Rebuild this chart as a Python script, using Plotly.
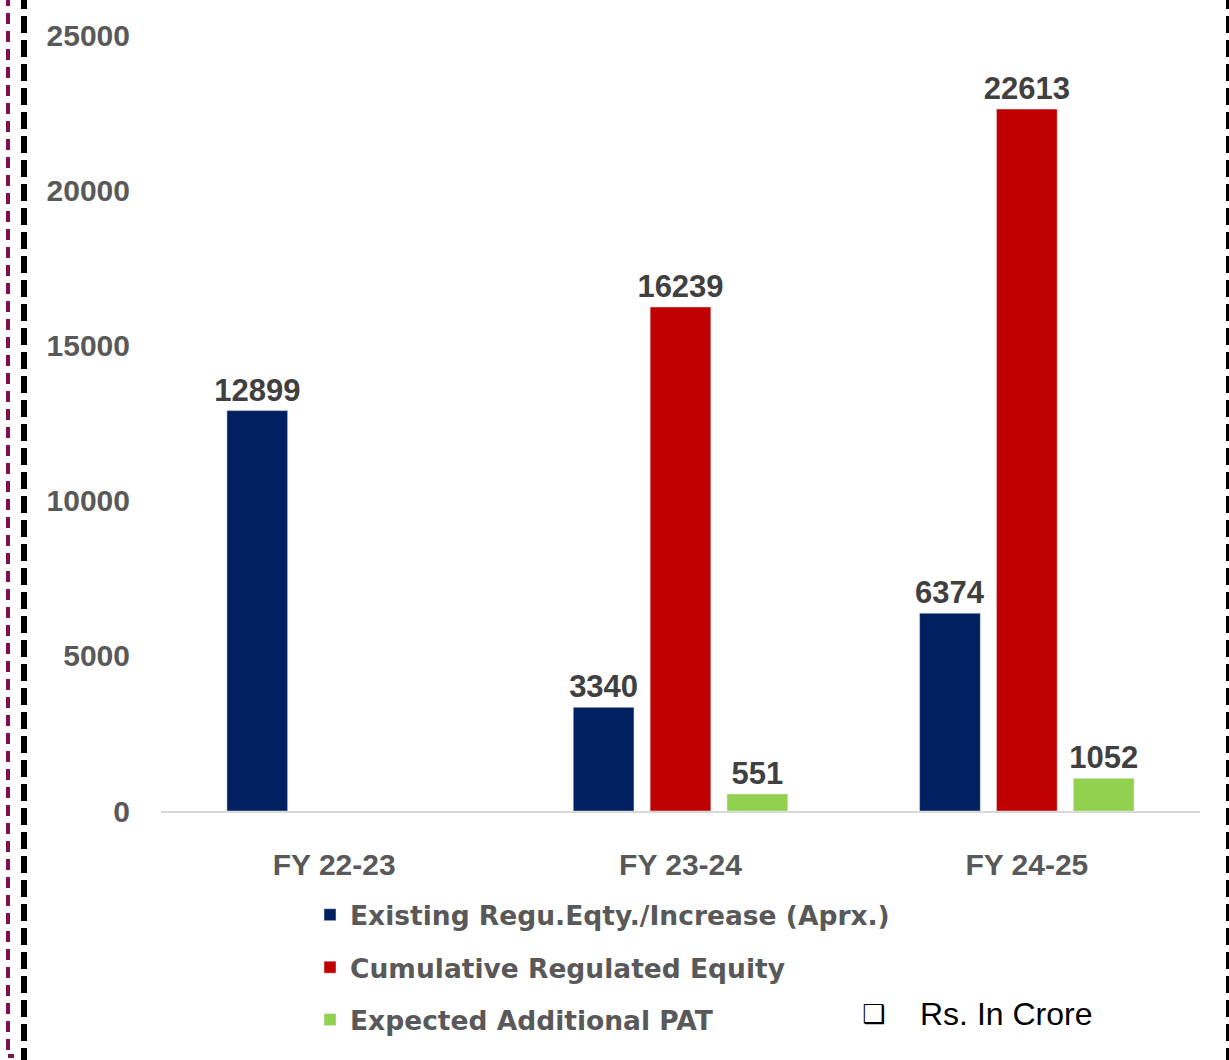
import plotly.graph_objects as go

categories = ["FY 22-23", "FY 23-24", "FY 24-25"]
existing = [12899, 3340, 6374]
cumulative = [None, 16239, 22613]
pat = [None, 551, 1052]
series_names = ["Existing Regu.Eqty./Increase (Aprx.)", "Cumulative Regulated Equity", "Expected Additional PAT"]
colors = ["#002060", "#C00000", "#92D050"]
y_ticks = [0, 5000, 10000, 15000, 20000, 25000]

W, H = 1229, 1060
# plot area in page pixels: x 161..1200, y 35..811
L, T = 161, 35
R = W - 1200
B = H - 811
pw, ph = W - L - R, H - T - B

def px_x(p):
    return (p - L) / pw

def px_y(p):
    return (H - B - p) / ph

FONT = "Liberation Sans"
fig = go.Figure()
for i, (name, vals) in enumerate(zip(series_names, [existing, cumulative, pat])):
    fig.add_trace(go.Bar(
        x=categories, y=vals, name=name, marker_color=colors[i],
        legendgroup=str(i),
        text=[("" if v is None else str(v)) for v in vals],
        textposition="outside", cliponaxis=False,
        textfont=dict(family=FONT, size=31, color="#404040", weight="bold"),
    ))

fig.update_layout(
    width=W, height=H,
    margin=dict(l=L, r=R, t=T, b=B, pad=0),
    paper_bgcolor="white", plot_bgcolor="white",
    barmode="group", bargap=0.334, bargroupgap=0.21,
    uniformtext=dict(mode="show", minsize=31),
    showlegend=True,
    legend=dict(x=px_x(310), y=px_y(891), xanchor="left", yanchor="top",
                orientation="v", tracegroupgap=15,
                font=dict(family="DejaVu Sans", size=26.5, color="#595959", weight="bold"),
                bgcolor="rgba(0,0,0,0)"),
    xaxis=dict(showgrid=False, showline=True, linecolor="#D9D9D9", linewidth=2,
               ticks="", ticklabelstandoff=26,
               tickfont=dict(family=FONT, size=30, color="#595959", weight="bold")),
    yaxis=dict(range=[0, 25000], tickvals=y_ticks, tickformat="d", showgrid=False, showline=False,
               zeroline=False, ticks="", ticklabelstandoff=30,
               tickfont=dict(family=FONT, size=30, color="#595959", weight="bold")),
)

# decorative dashed borders
fig.add_shape(type="line", xref="paper", yref="paper", x0=px_x(8), x1=px_x(8), y0=px_y(-5), y1=px_y(1055),
              line=dict(color="#7F1150", width=4, dash="11px,7px"))
fig.add_shape(type="line", xref="paper", yref="paper", x0=px_x(8), x1=px_x(14), y0=px_y(1056), y1=px_y(1056),
              line=dict(color="#7F1150", width=4))
fig.add_shape(type="line", xref="paper", yref="paper", x0=px_x(24), x1=px_x(24), y0=px_y(-8), y1=px_y(1070),
              line=dict(color="black", width=6, dash="17px,7px"))
fig.add_shape(type="line", xref="paper", yref="paper", x0=px_x(1228), x1=px_x(1228), y0=px_y(-8), y1=px_y(1070),
              line=dict(color="black", width=4, dash="17px,7px"))

fig.add_annotation(xref="paper", yref="paper", x=px_x(860), y=px_y(1014), xanchor="left", yanchor="middle",
                   text="<b>❑</b>", showarrow=False, font=dict(family="DejaVu Sans", size=26, color="black"))
fig.add_annotation(xref="paper", yref="paper", x=px_x(918), y=px_y(1014), xanchor="left", yanchor="middle",
                   text="Rs. In Crore", showarrow=False, font=dict(family=FONT, size=32, color="black"))

fig.write_html("out.html", config={"displayModeBar": False},
               post_script="document.body.style.margin='0';document.body.style.overflow='hidden';")
